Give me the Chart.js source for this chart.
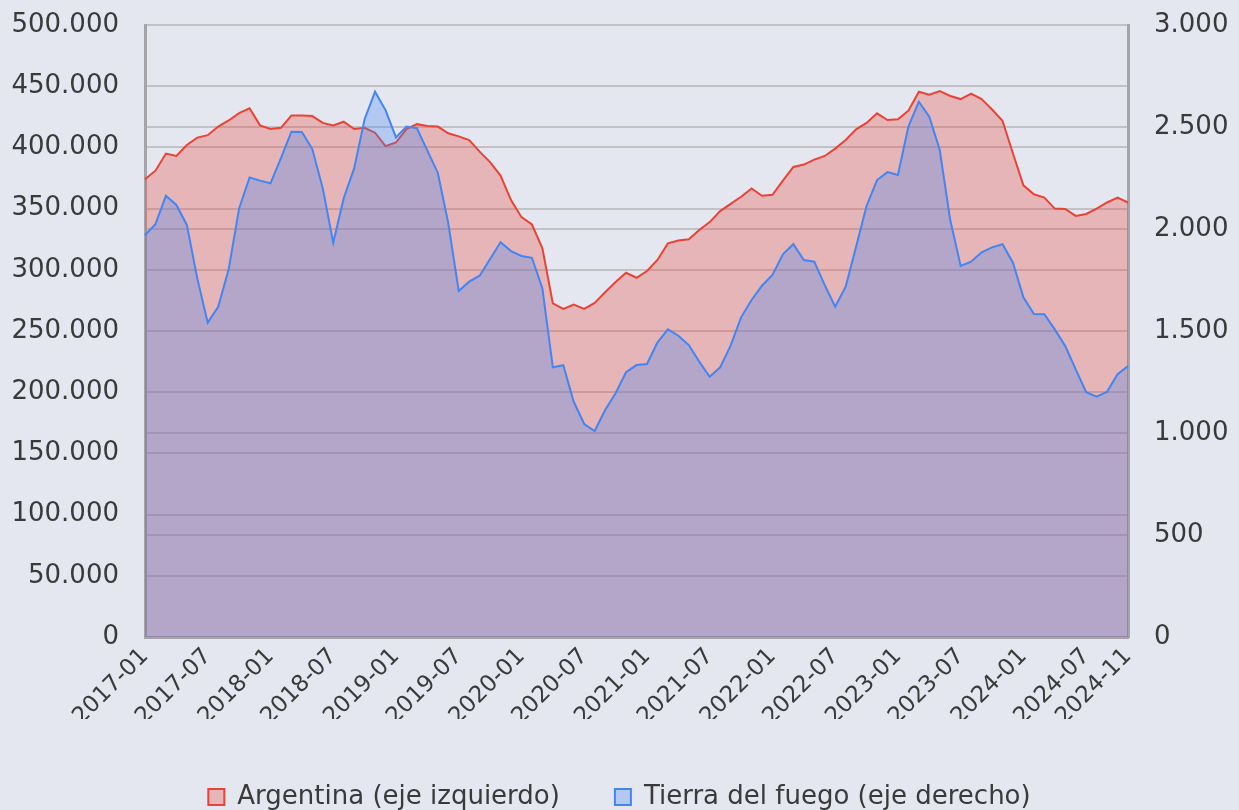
<!DOCTYPE html>
<html>
<head>
<meta charset="utf-8">
<script src="https://cdn.jsdelivr.net/npm/chart.js@4/dist/chart.umd.min.js"></script>
<style>
  html, body { margin: 0; padding: 0; background: #e4e7ef; }
  #wrap { width: 1239px; height: 810px; position: relative; }
</style>
</head>
<body>
<div id="wrap"><canvas id="c"></canvas></div>
<script>
const categories = [
  '2017-01','2017-02','2017-03','2017-04','2017-05','2017-06','2017-07','2017-08','2017-09','2017-10','2017-11','2017-12',
  '2018-01','2018-02','2018-03','2018-04','2018-05','2018-06','2018-07','2018-08','2018-09','2018-10','2018-11','2018-12',
  '2019-01','2019-02','2019-03','2019-04','2019-05','2019-06','2019-07','2019-08','2019-09','2019-10','2019-11','2019-12',
  '2020-01','2020-02','2020-03','2020-04','2020-05','2020-06','2020-07','2020-08','2020-09','2020-10','2020-11','2020-12',
  '2021-01','2021-02','2021-03','2021-04','2021-05','2021-06','2021-07','2021-08','2021-09','2021-10','2021-11','2021-12',
  '2022-01','2022-02','2022-03','2022-04','2022-05','2022-06','2022-07','2022-08','2022-09','2022-10','2022-11','2022-12',
  '2023-01','2023-02','2023-03','2023-04','2023-05','2023-06','2023-07','2023-08','2023-09','2023-10','2023-11','2023-12',
  '2024-01','2024-02','2024-03','2024-04','2024-05','2024-06','2024-07','2024-08','2024-09','2024-10','2024-11'
];

const argentina = [
  374000, 381000, 395000, 393000, 402000, 408000, 410000, 417000, 422000, 428000, 432000, 418000,
  415000, 416000, 426000, 426000, 425600, 420000, 418000, 421000, 415000, 416000, 412000, 401000,
  404000, 415000, 419000, 417500, 417000, 411500, 409000, 406000, 396500, 388000, 377000, 357000,
  343000, 337000, 317500, 272600, 268000, 271500, 268000, 273000, 281600, 290000, 297600, 293500,
  299000, 308000, 321600, 324000, 325000, 332500, 339000, 348000, 353800, 359700, 366500, 360500,
  361300, 372800, 384000, 386000, 390000, 393000, 399000, 406000, 414800, 420000, 427800, 422400,
  423000, 430000, 445500, 443000, 446000, 442000, 439500, 444000, 439500, 431000, 421800, 395000,
  369000, 361700, 359000, 350000, 349700, 344000, 345600, 350000, 355000, 359000, 355000
];

const tierraDelFuego = [
  1970, 2024, 2163, 2118, 2020, 1758, 1541, 1619, 1802, 2101, 2253, 2237,
  2224, 2347, 2477, 2476, 2392, 2199, 1933, 2150, 2297, 2538, 2673, 2583,
  2449, 2502, 2494, 2384, 2276, 2028, 1696, 1742, 1771, 1853, 1935, 1892,
  1868, 1859, 1709, 1322, 1332, 1153, 1044, 1010, 1113, 1195, 1298, 1333,
  1338, 1443, 1508, 1477, 1431, 1350, 1276, 1322, 1428, 1567, 1652, 1722,
  1775, 1876, 1926, 1848, 1840, 1725, 1619, 1717, 1913, 2113, 2240, 2279,
  2265, 2502, 2624, 2551, 2387, 2044, 1819, 1840, 1886, 1910, 1925, 1835,
  1665, 1583, 1582, 1508, 1426, 1312, 1200, 1178, 1202, 1288, 1328
];

const shownXTicks = ['2017-01','2017-07','2018-01','2018-07','2019-01','2019-07','2020-01','2020-07',
  '2021-01','2021-07','2022-01','2022-07','2023-01','2023-07','2024-01','2024-07','2024-11'];

const leftAxis = { min: 0, max: 500000, step: 50000 };
const rightAxis = { min: 0, max: 3000, step: 500 };

const seriesNames = ['Argentina (eje izquierdo)', 'Tierra del fuego (eje derecho)'];

function fmt(v) {
  return String(Math.round(v)).replace(/\B(?=(\d{3})+(?!\d))/g, '.');
}

const FONT = "'DejaVu Sans', sans-serif";
const TXT = '#3a3a3a';
const GRID = '#c1c2c6';
const AXISLINE = '#a4a4aa';
const W = 1239, H = 810;
const AREA = { left: 145, right: 1128, top: 25, bottom: 637 };
const LEGEND_PAD = 55;
const LEGEND_FONT = 26;

const bgPlugin = {
  id: 'bg',
  beforeDraw(chart) {
    const ctx = chart.ctx;
    ctx.save();
    ctx.fillStyle = '#e4e7ef';
    ctx.fillRect(0, 0, chart.width, chart.height);
    ctx.restore();
  }
};

const legendShift = {
  id: 'legendShift',
  afterLayout(chart) {
    const l = chart.legend;
    if (l) { l.top += 10; l.bottom += 10; }
  }
};

const yGrid = { color: GRID, lineWidth: 2, drawTicks: true, tickLength: 24, tickColor: 'rgba(0,0,0,0)' };

new Chart(document.getElementById('c'), {
  type: 'line',
  data: {
    labels: categories,
    datasets: [
      {
        label: seriesNames[0],
        data: argentina,
        yAxisID: 'y',
        borderColor: '#ea4335',
        backgroundColor: 'rgba(234,67,53,0.3)',
        borderWidth: 2,
        fill: 'origin',
        pointRadius: 0,
        tension: 0,
        order: 2
      },
      {
        label: seriesNames[1],
        data: tierraDelFuego,
        yAxisID: 'y1',
        borderColor: '#4285f4',
        backgroundColor: 'rgba(66,133,244,0.3)',
        borderWidth: 2,
        fill: 'origin',
        pointRadius: 0,
        tension: 0,
        order: 1
      }
    ]
  },
  options: {
    responsive: true,
    maintainAspectRatio: false,
    animation: false,
    layout: { padding: { left: 0, right: 0, top: AREA.top, bottom: 0 } },
    plugins: {
      legend: {
        position: 'bottom',
        labels: {
          font: { family: FONT, size: LEGEND_FONT },
          color: TXT,
          boxWidth: 16,
          boxHeight: 16,
          padding: LEGEND_PAD,
          sort: (a, b) => a.datasetIndex - b.datasetIndex
        }
      },
      tooltip: { enabled: false }
    },
    scales: {
      x: {
        type: 'category',
        offset: false,
        grid: { display: false, drawTicks: false },
        border: { display: true, color: AXISLINE, width: 3 },
        afterFit: s => { s.height = (H - AREA.bottom) - (LEGEND_FONT + LEGEND_PAD + 10); },
        ticks: {
          autoSkip: false,
          minRotation: 45,
          maxRotation: 45,
          padding: 6,
          color: TXT,
          font: { family: FONT, size: 23 },
          callback: function(value, index) {
            const lab = categories[index];
            return shownXTicks.includes(lab) ? lab : null;
          }
        }
      },
      y: {
        position: 'left',
        min: leftAxis.min,
        max: leftAxis.max,
        grid: yGrid,
        border: { display: true, color: AXISLINE, width: 3 },
        afterFit: s => { s.width = AREA.left; },
        ticks: {
          stepSize: leftAxis.step,
          padding: 2,
          color: TXT,
          font: { family: FONT, size: 26 },
          callback: v => fmt(v)
        }
      },
      y1: {
        position: 'right',
        min: rightAxis.min,
        max: rightAxis.max,
        grid: yGrid,
        border: { display: true, color: AXISLINE, width: 3 },
        afterFit: s => { s.width = W - AREA.right; },
        ticks: {
          stepSize: rightAxis.step,
          padding: 2,
          color: TXT,
          font: { family: FONT, size: 26 },
          callback: v => fmt(v)
        }
      }
    }
  },
  plugins: [bgPlugin, legendShift]
});
</script>
</body>
</html>
